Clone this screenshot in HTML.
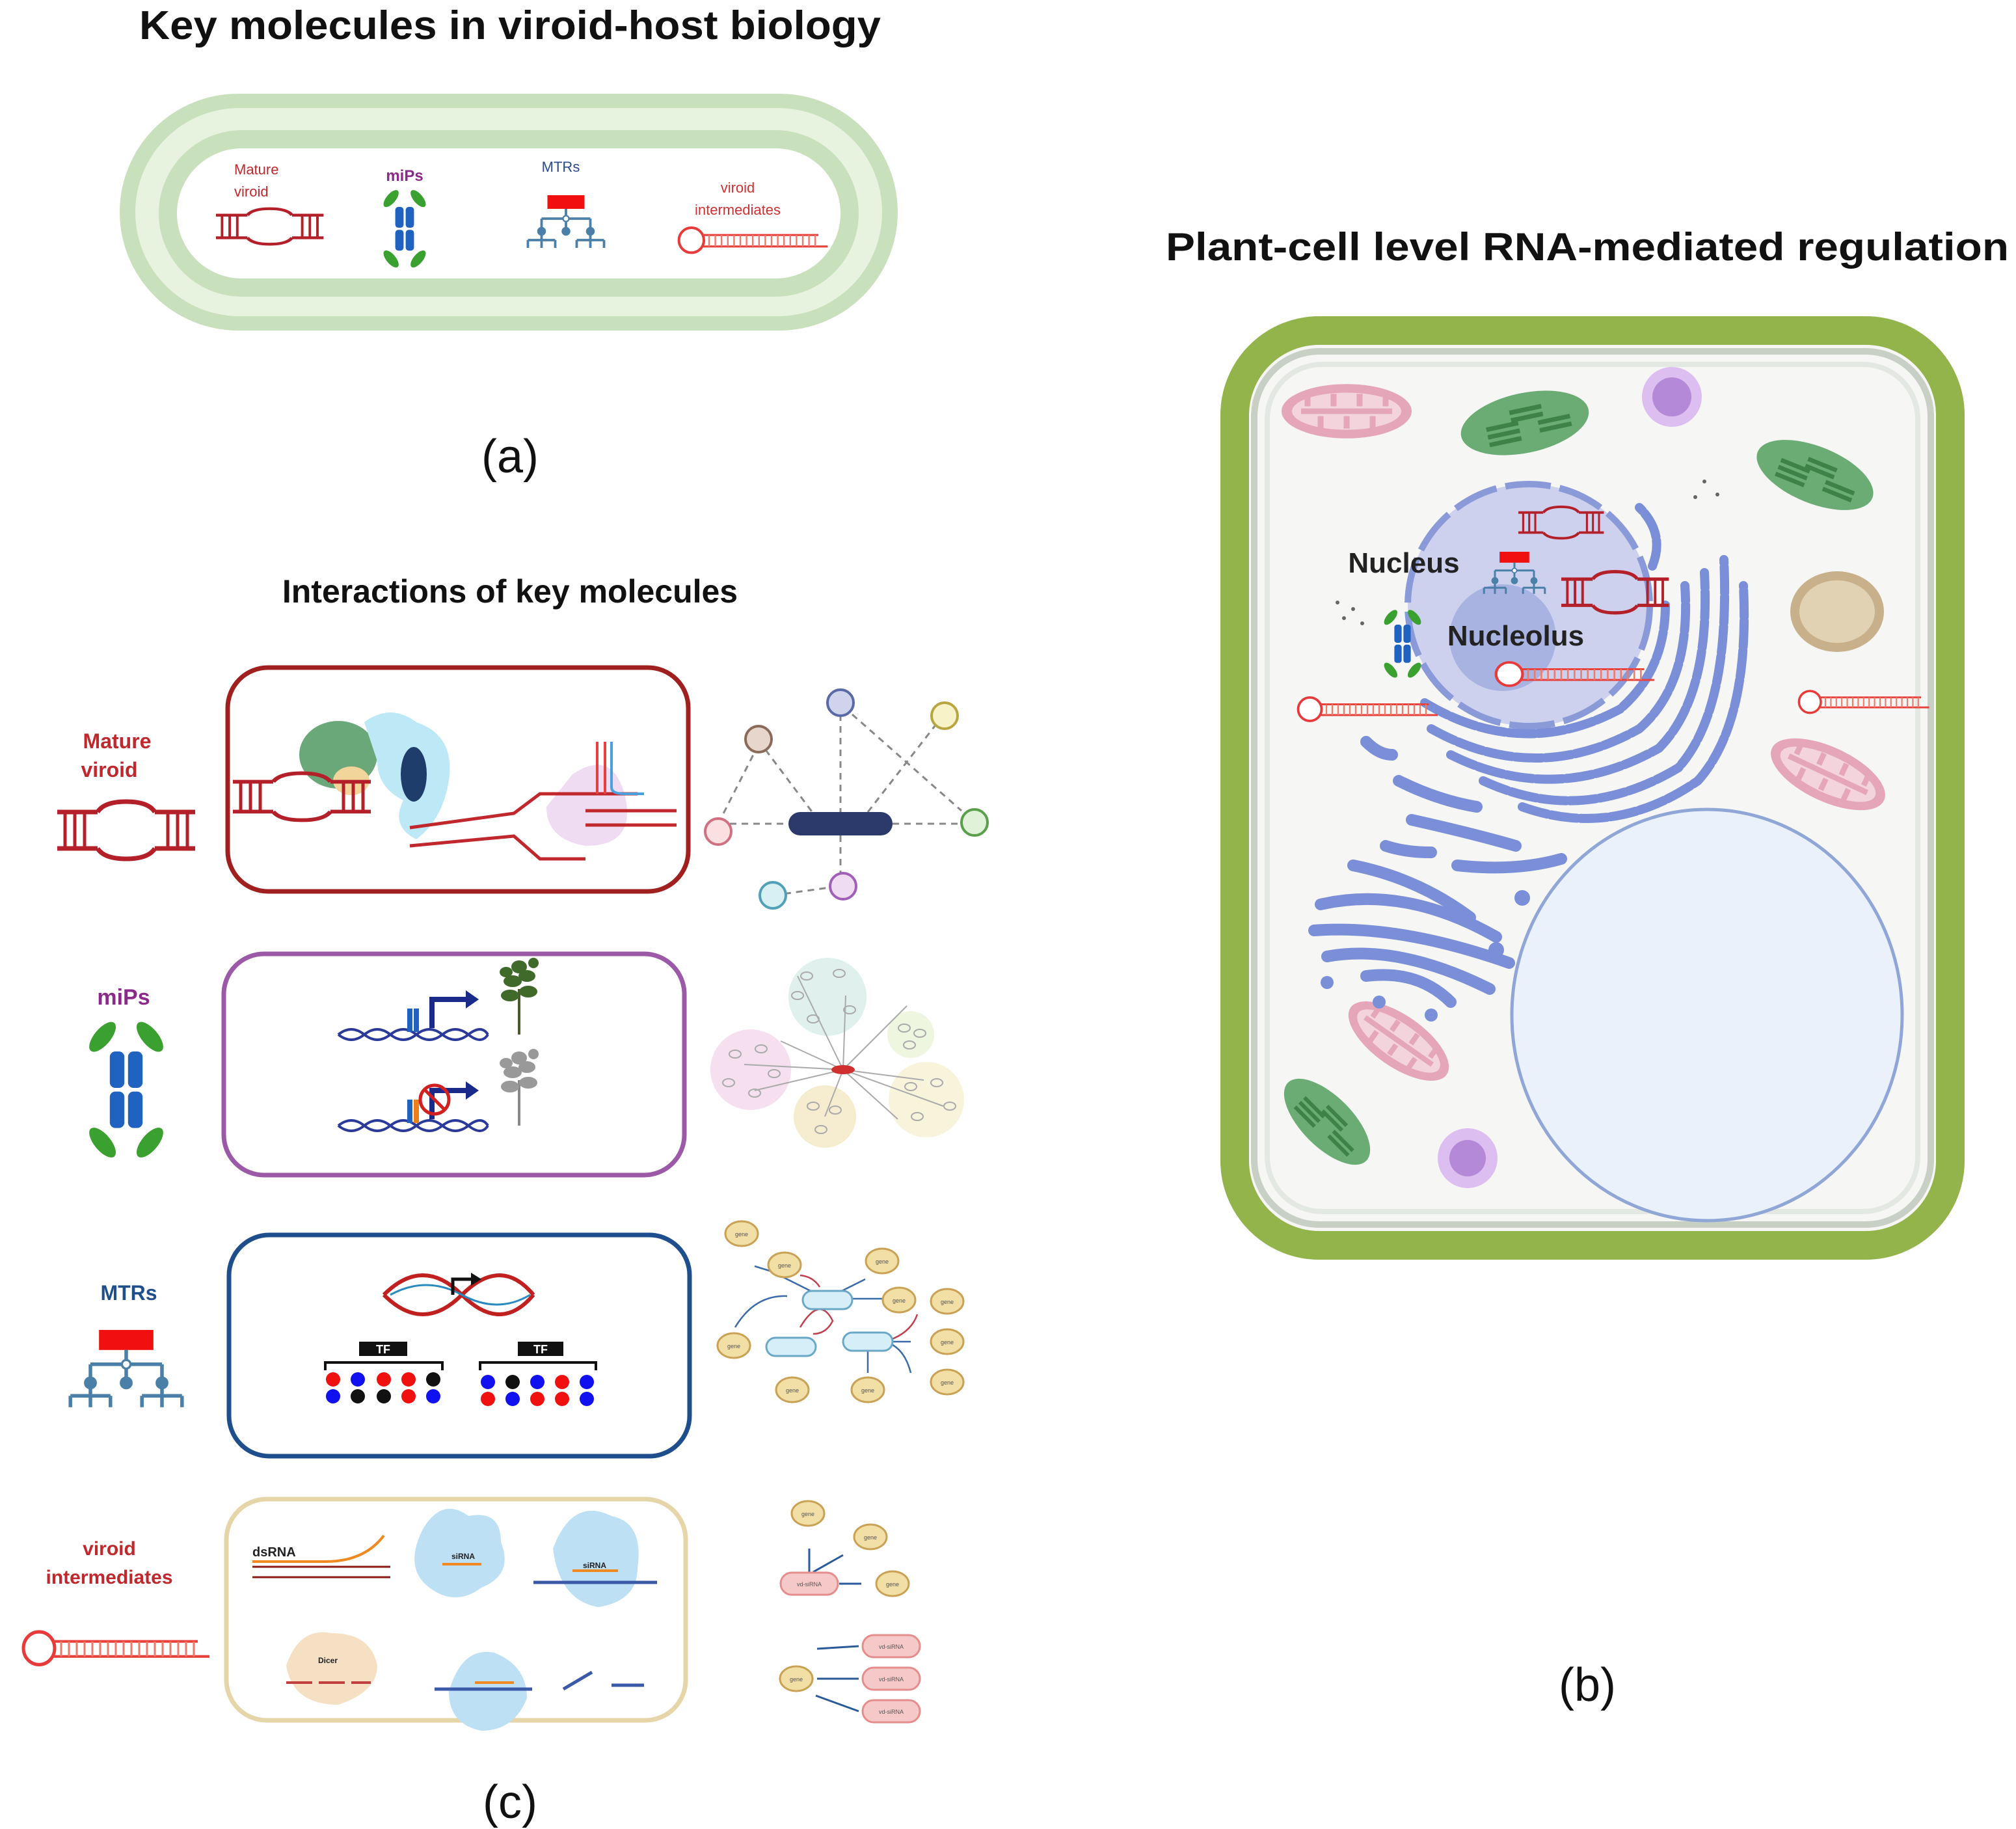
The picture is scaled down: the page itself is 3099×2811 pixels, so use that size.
<!DOCTYPE html>
<html><head><meta charset="utf-8"><style>
html,body{margin:0;padding:0;background:#fff}
svg{display:block}
text{font-family:"Liberation Sans",sans-serif}
</style></head><body>
<svg width="3099" height="2811" viewBox="0 0 3099 2811" xmlns="http://www.w3.org/2000/svg">
<defs>
<g id="vir">
 <path d="M0 14H62 M150 14H212 M0 70H62 M150 70H212" stroke="#b3202a" stroke-width="7" fill="none"/>
 <path d="M12 14V70 M27 14V70 M42 14V70 M170 14V70 M185 14V70 M200 14V70" stroke="#b3202a" stroke-width="5"/>
 <path d="M62 14 Q72 -2 106 -2 Q140 -2 150 14 M62 70 Q72 86 106 86 Q140 86 150 70" stroke="#b3202a" stroke-width="7" fill="none"/>
</g>
<g id="hp">
 <circle cx="26" cy="24" r="24" fill="#fff" stroke="#e83a3a" stroke-width="5"/>
 <path d="M48 14H270 M48 36H288" stroke="#e8403a" stroke-width="4"/>
 <path d="M60 14V36 M72 14V36 M84 14V36 M96 14V36 M108 14V36 M120 14V36 M132 14V36 M144 14V36 M156 14V36 M168 14V36 M180 14V36 M192 14V36 M204 14V36 M216 14V36 M228 14V36 M240 14V36 M252 14V36 M264 14V36" stroke="#f07a6a" stroke-width="3"/>
</g>
<g id="mip">
 <rect x="-18" y="0" width="16" height="40" rx="6" fill="#1f62c0"/><rect x="2" y="0" width="16" height="40" rx="6" fill="#1f62c0"/>
 <rect x="-18" y="44" width="16" height="40" rx="6" fill="#1f62c0"/><rect x="2" y="44" width="16" height="40" rx="6" fill="#1f62c0"/>
 <ellipse cx="-26" cy="-16" rx="9" ry="20" transform="rotate(40 -26 -16)" fill="#3aa030"/>
 <ellipse cx="26" cy="-16" rx="9" ry="20" transform="rotate(-40 26 -16)" fill="#3aa030"/>
 <ellipse cx="-26" cy="100" rx="9" ry="20" transform="rotate(-40 -26 100)" fill="#3aa030"/>
 <ellipse cx="26" cy="100" rx="9" ry="20" transform="rotate(40 26 100)" fill="#3aa030"/>
</g>
<g id="mtr">
 <rect x="-38" y="0" width="76" height="28" fill="#f01010"/>
 <path d="M0 28V48 M-50 48H50 M-50 48V70 M0 48V70 M50 48V70 M-50 78V92 M-78 92H-22 M-78 92V108 M-50 92V108 M-22 92V108 M50 78V92 M22 92H78 M22 92V108 M50 92V108 M78 92V108" stroke="#4a7fa8" stroke-width="5" fill="none"/>
 <circle cx="-50" cy="74" r="9" fill="#4a7fa8"/><circle cx="0" cy="74" r="9" fill="#4a7fa8"/><circle cx="50" cy="74" r="9" fill="#4a7fa8"/>
 <circle cx="0" cy="48" r="6" fill="#fff" stroke="#4a7fa8" stroke-width="3"/>
</g>
<g id="gene"><ellipse rx="25" ry="19" fill="#f2dfa6" stroke="#c9a255" stroke-width="3"/><text x="0" y="4" font-size="9" text-anchor="middle" fill="#555">gene</text></g>
<g id="vds"><rect x="-44" y="-17" width="88" height="34" rx="17" fill="#f6c9c9" stroke="#e58d8d" stroke-width="3"/><text x="0" y="4" font-size="9" text-anchor="middle" fill="#555">vd-siRNA</text></g>
<g id="mito"><ellipse rx="100" ry="44" fill="#e4a6b8"/><ellipse rx="84" ry="30" fill="#f3d3dc"/><path d="M-70 0H70 M-60 -28V-8 M-40 28V8 M-20 -28V-8 M0 28V8 M20 -28V-8 M40 28V8 M60 -28V-8" stroke="#e4a6b8" stroke-width="9"/></g>
<g id="chl"><ellipse rx="100" ry="46" fill="#6aac74"/><path d="M-60 10H-10 M-60 -2H-10 M-60 22H-10 M-20 -20H30 M-20 -8H30 M20 4H70 M20 16H70" stroke="#3f8248" stroke-width="7"/></g>
<g id="sn"><ellipse rx="9" ry="6" fill="none" stroke="#aaa" stroke-width="2"/></g>
<g id="tree"><path d="M0 0V-70" stroke="currentColor" stroke-width="4"/><ellipse cx="-14" cy="-60" rx="14" ry="9"/><ellipse cx="14" cy="-66" rx="14" ry="9"/><ellipse cx="-10" cy="-82" rx="14" ry="9"/><ellipse cx="12" cy="-90" rx="13" ry="9"/><ellipse cx="0" cy="-104" rx="12" ry="10"/><ellipse cx="-20" cy="-96" rx="10" ry="8"/><ellipse cx="22" cy="-110" rx="8" ry="8"/></g>
</defs>

<!-- (a) -->
<text x="784" y="60" font-size="62" font-weight="bold" text-anchor="middle" fill="#111" textLength="1140" lengthAdjust="spacingAndGlyphs">Key molecules in viroid-host biology</text>
<rect x="184" y="144" width="1196" height="364" rx="182" fill="#c9e0bd"/>
<rect x="208" y="166" width="1148" height="320" rx="160" fill="#e8f3df"/>
<rect x="244" y="200" width="1076" height="256" rx="128" fill="#c9e0bd"/>
<rect x="272" y="228" width="1020" height="200" rx="100" fill="#fff"/>
<text x="360" y="268" font-size="22" fill="#c0282d">Mature</text>
<text x="360" y="302" font-size="22" fill="#c0282d">viroid</text>
<use href="#vir" transform="translate(332,322) scale(0.78,0.62)"/>
<text x="622" y="278" font-size="24" font-weight="bold" text-anchor="middle" fill="#8a2a8a">miPs</text>
<use href="#mip" transform="translate(622,318) scale(0.8)"/>
<text x="862" y="264" font-size="22" text-anchor="middle" fill="#2a4a8a">MTRs</text>
<use href="#mtr" transform="translate(870,300) scale(0.75)"/>
<text x="1134" y="296" font-size="22" text-anchor="middle" fill="#d03030">viroid</text>
<text x="1134" y="330" font-size="22" text-anchor="middle" fill="#d03030">intermediates</text>
<use href="#hp" transform="translate(1042,350) scale(0.8)"/>
<text x="784" y="726" font-size="72" text-anchor="middle" fill="#111" font-family="Liberation Serif">(a)</text>

<!-- (b) -->
<text x="2440" y="400" font-size="60" font-weight="bold" text-anchor="middle" fill="#111" textLength="1296" lengthAdjust="spacingAndGlyphs">Plant-cell level RNA-mediated regulation</text>
<rect x="1898" y="508" width="1100" height="1406" rx="130" fill="#f6f6f4" stroke="#93b44a" stroke-width="44"/>
<rect x="1928" y="540" width="1040" height="1342" rx="100" fill="none" stroke="#c8cfc4" stroke-width="10"/>
<rect x="1948" y="560" width="1000" height="1302" rx="84" fill="none" stroke="#e4e8e2" stroke-width="8"/>
<use href="#mito" transform="translate(2070,632) scale(1,0.95)"/>
<use href="#chl" transform="translate(2344,650) rotate(-12)"/>
<circle cx="2570" cy="610" r="46" fill="#dcbff0"/><circle cx="2570" cy="610" r="30" fill="#b48ad8"/>
<use href="#chl" transform="translate(2790,730) rotate(22) scale(0.95)"/>
<ellipse cx="2824" cy="940" rx="72" ry="62" fill="#c8b08a"/><ellipse cx="2824" cy="940" rx="58" ry="48" fill="#e2d2b4"/>
<use href="#mito" transform="translate(2810,1190) rotate(25) scale(0.95)"/>
<use href="#hp" transform="translate(2764,1062) scale(0.7)"/>
<use href="#mito" transform="translate(2150,1600) rotate(35) scale(0.9)"/>
<use href="#chl" transform="translate(2040,1724) rotate(45) scale(0.85)"/>
<circle cx="2256" cy="1780" r="46" fill="#dcbff0"/><circle cx="2256" cy="1780" r="28" fill="#b48ad8"/>
<ellipse cx="2624" cy="1560" rx="300" ry="316" fill="#eaf1fb" stroke="#8fa6d6" stroke-width="5"/>
<!-- nucleus -->
<circle cx="2350" cy="930" r="186" fill="#cdd1ee" stroke="#8a9ad8" stroke-width="10" stroke-dasharray="70 14"/>
<circle cx="2310" cy="980" r="82" fill="#a9b3e2"/>
<!-- ER -->
<g fill="none" stroke="#7a8fd8" stroke-width="14" stroke-linecap="round" stroke-dasharray="40 6">
<path d="M2190 1080 Q2340 1170 2490 1090 Q2560 1030 2560 930"/>
<path d="M2200 1120 Q2360 1210 2520 1120 Q2600 1050 2590 900"/>
<path d="M2230 1160 Q2390 1240 2550 1150 Q2630 1070 2620 880"/>
<path d="M2280 1200 Q2430 1270 2580 1180 Q2660 1090 2650 860"/>
<path d="M2340 1240 Q2480 1290 2610 1200 Q2690 1110 2680 900"/>
<path d="M2540 870 Q2560 820 2520 780"/>
</g>
<g fill="none" stroke="#7a8fd8" stroke-width="18" stroke-linecap="round">
<path d="M2100 1140 Q2120 1160 2140 1160"/><path d="M2150 1200 Q2210 1230 2270 1240"/><path d="M2170 1260 Q2260 1280 2330 1300"/>
<path d="M2240 1330 Q2330 1340 2400 1320"/><path d="M2130 1300 Q2160 1310 2200 1310"/>
<path d="M2030 1390 Q2160 1360 2300 1440"/><path d="M2020 1430 Q2150 1420 2320 1480"/>
<path d="M2040 1470 Q2150 1450 2290 1520"/><path d="M2100 1500 Q2180 1490 2230 1540"/>
<path d="M2080 1330 Q2180 1350 2260 1410"/>
</g>
<g fill="#7a8fd8"><circle cx="2040" cy="1510" r="10"/><circle cx="2120" cy="1540" r="10"/><circle cx="2200" cy="1560" r="10"/><circle cx="2300" cy="1460" r="12"/><circle cx="2340" cy="1380" r="12"/></g>
<use href="#vir" transform="translate(2334,780) scale(0.62,0.55)"/>
<use href="#vir" transform="translate(2400,880) scale(0.78,0.72)"/>
<use href="#mtr" transform="translate(2328,848) scale(0.6)"/>
<use href="#hp" transform="translate(2298,1018) scale(0.85,0.75)"/>
<use href="#hp" transform="translate(1994,1072) scale(0.75)"/>
<use href="#mip" transform="translate(2156,960) scale(0.7)"/>
<g fill="#666"><circle cx="2056" cy="926" r="3"/><circle cx="2080" cy="936" r="3"/><circle cx="2066" cy="950" r="3"/><circle cx="2094" cy="958" r="3"/><circle cx="2620" cy="740" r="3"/><circle cx="2640" cy="760" r="3"/><circle cx="2606" cy="764" r="3"/></g>
<text x="2158" y="880" font-size="44" font-weight="bold" text-anchor="middle" fill="#222">Nucleus</text>
<text x="2330" y="992" font-size="44" font-weight="bold" text-anchor="middle" fill="#222">Nucleolus</text>
<text x="2440" y="2614" font-size="72" text-anchor="middle" fill="#111" font-family="Liberation Serif">(b)</text>

<!-- (c) -->
<text x="784" y="926" font-size="50" font-weight="bold" text-anchor="middle" fill="#111">Interactions of key molecules</text>
<text x="180" y="1150" font-size="32" fill="#c0282d" text-anchor="middle" font-weight="bold">Mature</text>
<text x="168" y="1194" font-size="32" fill="#c0282d" text-anchor="middle" font-weight="bold">viroid</text>
<use href="#vir" transform="translate(88,1234)"/>
<text x="190" y="1544" font-size="34" fill="#8a2a8a" text-anchor="middle" font-weight="bold">miPs</text>
<use href="#mip" transform="translate(194,1616) scale(1.4)"/>
<text x="198" y="1998" font-size="32" fill="#1f4e8c" text-anchor="middle" font-weight="bold">MTRs</text>
<use href="#mtr" transform="translate(194,2044) scale(1.1)"/>
<text x="168" y="2390" font-size="30" fill="#c0282d" text-anchor="middle" font-weight="bold">viroid</text>
<text x="168" y="2434" font-size="30" fill="#c0282d" text-anchor="middle" font-weight="bold">intermediates</text>
<use href="#hp" transform="translate(34,2508) scale(1,1.05)"/>

<rect x="350" y="1026" width="708" height="344" rx="62" fill="#fff" stroke="#a02020" stroke-width="7"/>
<rect x="344" y="1466" width="708" height="340" rx="62" fill="#fff" stroke="#9b59a8" stroke-width="7"/>
<rect x="352" y="1898" width="708" height="340" rx="62" fill="#fff" stroke="#1f4e8c" stroke-width="7"/>
<rect x="348" y="2304" width="706" height="340" rx="62" fill="#fff" stroke="#e6d5a8" stroke-width="7"/>

<!-- row1 content -->
<ellipse cx="520" cy="1160" rx="60" ry="52" fill="#6aa87a"/>
<path d="M560 1110 Q600 1080 640 1110 Q700 1130 690 1200 Q680 1260 640 1290 Q600 1270 620 1230 Q580 1210 580 1170Z" fill="#bde8f6"/>
<ellipse cx="636" cy="1190" rx="20" ry="42" fill="#1f3d6b"/>
<ellipse cx="540" cy="1200" rx="28" ry="22" fill="#f2d59a"/>
<use href="#vir" transform="translate(358,1190) scale(1,0.82)"/>
<path d="M880 1190 Q940 1150 960 1220 Q980 1300 900 1300 Q840 1290 840 1240Z" fill="#f0dcf2"/>
<path d="M630 1272L790 1250L830 1220H980 M630 1300L790 1285L830 1320H900 M900 1246H1040 M900 1268H1040" stroke="#c0282d" stroke-width="5" fill="none"/>
<path d="M918 1140V1220 M930 1140V1220" stroke="#e84040" stroke-width="4"/>
<path d="M940 1140V1210Q940 1220 960 1220H990" stroke="#4aa0dd" stroke-width="4" fill="none"/>
<g stroke="#888" stroke-width="3" stroke-dasharray="10 8" fill="none">
<path d="M1104 1266H1212 M1372 1266H1478 M1292 1098V1248 M1292 1284V1344 M1188 1376L1276 1364 M1166 1138L1250 1250 M1104 1266L1160 1156 M1310 1098L1478 1246 M1334 1248L1440 1112"/>
</g>
<rect x="1212" y="1248" width="160" height="36" rx="18" fill="#2b3a6b"/>
<g stroke-width="4"><circle cx="1166" cy="1136" r="20" fill="#e6d6cc" stroke="#8a6a5a"/><circle cx="1292" cy="1080" r="20" fill="#cfd4ec" stroke="#5a6aa8"/><circle cx="1452" cy="1100" r="20" fill="#f8f2c8" stroke="#b8a640"/><circle cx="1104" cy="1278" r="20" fill="#fbe0e2" stroke="#d07080"/><circle cx="1498" cy="1264" r="20" fill="#e0f2d8" stroke="#5aa04a"/><circle cx="1188" cy="1376" r="20" fill="#d8f0f4" stroke="#50a0b8"/><circle cx="1296" cy="1362" r="20" fill="#f0dcf2" stroke="#a060b8"/></g>

<!-- row2 content -->
<g fill="none" stroke="#2a3a9a" stroke-width="4"><path d="M520 1590 Q540 1574 560 1590 T600 1590 T640 1590 T680 1590 T720 1590 T750 1590"/><path d="M520 1590 Q540 1606 560 1590 T600 1590 T640 1590 T680 1590 T720 1590 T750 1590"/>
<path d="M520 1730 Q540 1714 560 1730 T600 1730 T640 1730 T680 1730 T720 1730 T750 1730"/><path d="M520 1730 Q540 1746 560 1730 T600 1730 T640 1730 T680 1730 T720 1730 T750 1730"/></g>
<path d="M664 1580V1536H720" stroke="#1a2a8a" stroke-width="8" fill="none"/><path d="M716 1522L736 1536L716 1550Z" fill="#1a2a8a"/>
<path d="M664 1720V1676H720" stroke="#1a2a8a" stroke-width="8" fill="none"/><path d="M716 1662L736 1676L716 1690Z" fill="#1a2a8a"/>
<rect x="626" y="1550" width="8" height="36" fill="#1f62c0"/><rect x="636" y="1550" width="8" height="36" fill="#1f62c0"/>
<rect x="626" y="1690" width="8" height="36" fill="#1f62c0"/><rect x="636" y="1690" width="8" height="36" fill="#e88020"/>
<circle cx="668" cy="1690" r="22" fill="none" stroke="#d02020" stroke-width="5"/><path d="M652 1674L684 1706" stroke="#d02020" stroke-width="5"/>
<use href="#tree" transform="translate(798,1590)" fill="#3f6a2a" style="color:#4a5a2a"/>
<use href="#tree" transform="translate(798,1730)" fill="#999" style="color:#888"/>
<circle cx="1272" cy="1532" r="60" fill="#e0f0ec"/><circle cx="1154" cy="1644" r="62" fill="#f6e0f0"/><circle cx="1400" cy="1590" r="36" fill="#eef6e0"/><circle cx="1424" cy="1690" r="58" fill="#f8f4dc"/><circle cx="1268" cy="1716" r="48" fill="#f6ecd0"/>
<g stroke="#aaa" stroke-width="2"><path d="M1296 1644L1226 1500 M1296 1644L1300 1530 M1296 1644L1144 1636 M1296 1644L1394 1546 M1296 1644L1420 1660 M1296 1644L1268 1716 M1296 1644L1450 1700 M1296 1644L1200 1600 M1296 1644L1380 1720 M1296 1644L1160 1676"/></g>
<g><use href="#sn" x="1240" y="1500"/><use href="#sn" x="1290" y="1496"/><use href="#sn" x="1226" y="1530"/><use href="#sn" x="1306" y="1552"/><use href="#sn" x="1250" y="1566"/>
<use href="#sn" x="1130" y="1620"/><use href="#sn" x="1170" y="1612"/><use href="#sn" x="1190" y="1650"/><use href="#sn" x="1120" y="1664"/><use href="#sn" x="1160" y="1680"/>
<use href="#sn" x="1390" y="1580"/><use href="#sn" x="1414" y="1588"/><use href="#sn" x="1398" y="1606"/>
<use href="#sn" x="1400" y="1670"/><use href="#sn" x="1440" y="1664"/><use href="#sn" x="1460" y="1700"/><use href="#sn" x="1410" y="1716"/>
<use href="#sn" x="1250" y="1700"/><use href="#sn" x="1284" y="1706"/><use href="#sn" x="1262" y="1736"/></g>
<ellipse cx="1296" cy="1644" rx="18" ry="7" fill="#d03030"/>

<!-- row3 content -->
<g fill="none" stroke-width="6"><path d="M590 1990 Q650 1930 710 1990 T820 1990" stroke="#c02020"/><path d="M590 1990 Q650 2050 710 1990 T820 1990" stroke="#c02020"/><path d="M600 1990 Q655 1960 710 1990 T815 1990" stroke="#2a8ac0" stroke-width="3"/></g>
<path d="M696 1990V1966H728" stroke="#111" stroke-width="5" fill="none"/><path d="M724 1956L740 1966L724 1976Z" fill="#111"/>
<rect x="552" y="2062" width="74" height="22" fill="#111"/><text x="589" y="2080" font-size="18" fill="#fff" text-anchor="middle" font-weight="bold">TF</text>
<rect x="796" y="2062" width="70" height="22" fill="#111"/><text x="831" y="2080" font-size="18" fill="#fff" text-anchor="middle" font-weight="bold">TF</text>
<path d="M500 2106V2094H680V2106 M738 2106V2094H916V2106" stroke="#111" stroke-width="4" fill="none"/>
<g>
<circle cx="512" cy="2120" r="11" fill="#f01010"/><circle cx="550" cy="2120" r="11" fill="#1010f0"/><circle cx="590" cy="2120" r="11" fill="#f01010"/><circle cx="628" cy="2120" r="11" fill="#f01010"/><circle cx="666" cy="2120" r="11" fill="#111"/>
<circle cx="512" cy="2146" r="11" fill="#1010f0"/><circle cx="550" cy="2146" r="11" fill="#111"/><circle cx="590" cy="2146" r="11" fill="#111"/><circle cx="628" cy="2146" r="11" fill="#f01010"/><circle cx="666" cy="2146" r="11" fill="#1010f0"/>
<circle cx="750" cy="2124" r="11" fill="#1010f0"/><circle cx="788" cy="2124" r="11" fill="#111"/><circle cx="826" cy="2124" r="11" fill="#1010f0"/><circle cx="864" cy="2124" r="11" fill="#f01010"/><circle cx="902" cy="2124" r="11" fill="#1010f0"/>
<circle cx="750" cy="2150" r="11" fill="#f01010"/><circle cx="788" cy="2150" r="11" fill="#1010f0"/><circle cx="826" cy="2150" r="11" fill="#f01010"/><circle cx="864" cy="2150" r="11" fill="#f01010"/><circle cx="902" cy="2150" r="11" fill="#1010f0"/>
</g>
<g stroke="#3a6aa8" stroke-width="2.5" fill="none"><path d="M1186 1954L1160 1946 M1198 1960L1270 1996 M1270 1996L1330 1966 M1306 1996L1360 1996 M1130 2040Q1160 1990 1210 1992 M1360 2062L1400 2062 M1334 2072V2110 M1360 2062Q1390 2070 1400 2110"/></g>
<g stroke="#c04050" stroke-width="2.5" fill="none"><path d="M1230 1960Q1250 1962 1260 1978 M1230 2040Q1260 1990 1280 2030Q1270 2050 1250 2050 M1360 2062Q1400 2050 1410 2020"/></g>
<use href="#gene" transform="translate(1140,1896)"/><use href="#gene" transform="translate(1206,1944)"/><use href="#gene" transform="translate(1356,1938)"/><use href="#gene" transform="translate(1382,1998)"/><use href="#gene" transform="translate(1456,2000)"/><use href="#gene" transform="translate(1456,2062)"/><use href="#gene" transform="translate(1456,2124)"/><use href="#gene" transform="translate(1128,2068)"/><use href="#gene" transform="translate(1218,2136)"/><use href="#gene" transform="translate(1334,2136)"/>
<g fill="#d6eef8" stroke="#6aa8c8" stroke-width="3"><rect x="1234" y="1984" width="76" height="28" rx="14"/><rect x="1178" y="2056" width="76" height="28" rx="14"/><rect x="1296" y="2048" width="76" height="28" rx="14"/></g>

<!-- row4 content -->
<path d="M388 2408H600 M388 2424H600" stroke="#8a1a1a" stroke-width="3"/><path d="M388 2400H500Q560 2400 590 2360" stroke="#f08a20" stroke-width="4" fill="none"/>
<text x="388" y="2392" font-size="20" font-weight="bold" fill="#222">dsRNA</text>
<path d="M650 2350Q680 2300 720 2330Q770 2320 770 2370Q790 2420 740 2440Q700 2470 660 2440Q620 2410 650 2350Z" fill="#bde0f4"/>
<path d="M680 2404H740" stroke="#f08a20" stroke-width="4"/><text x="712" y="2396" font-size="12" font-weight="bold" text-anchor="middle" fill="#222">siRNA</text>
<path d="M850 2380Q880 2300 940 2330Q990 2340 980 2410Q980 2460 920 2470Q860 2460 850 2380Z" fill="#bde0f4"/>
<path d="M820 2432H1010" stroke="#3a5aa8" stroke-width="5"/><path d="M880 2414H950" stroke="#f08a20" stroke-width="4"/>
<text x="914" y="2410" font-size="12" font-weight="bold" text-anchor="middle" fill="#222">siRNA</text>
<path d="M440 2560Q460 2500 510 2510Q570 2510 580 2560Q580 2600 520 2620Q450 2620 440 2560Z" fill="#f6e0c4"/>
<text x="504" y="2556" font-size="12" font-weight="bold" text-anchor="middle" fill="#222">Dicer</text>
<path d="M440 2586H570" stroke="#c04040" stroke-width="4" stroke-dasharray="40 10"/>
<path d="M690 2600Q710 2530 760 2540Q810 2560 810 2610Q790 2660 740 2660Q690 2650 690 2600Z" fill="#bde0f4"/>
<path d="M668 2596H818" stroke="#3a5aa8" stroke-width="5"/><path d="M730 2586H790" stroke="#f08a20" stroke-width="4"/>
<path d="M866 2596L910 2570 M940 2590H990" stroke="#3a5aa8" stroke-width="5"/>
<g stroke="#2a5a9a" stroke-width="3" fill="none"><path d="M1244 2416V2380 M1250 2416L1296 2390 M1290 2434H1324 M1256 2534L1320 2530 M1256 2580H1320 M1254 2606L1320 2630"/></g>
<use href="#gene" transform="translate(1242,2326)"/><use href="#gene" transform="translate(1338,2362)"/><use href="#gene" transform="translate(1372,2434)"/><use href="#gene" transform="translate(1224,2580)"/>
<use href="#vds" transform="translate(1244,2434)"/><use href="#vds" transform="translate(1370,2530)"/><use href="#vds" transform="translate(1370,2580)"/><use href="#vds" transform="translate(1370,2630)"/>

<text x="784" y="2794" font-size="72" text-anchor="middle" fill="#111" font-family="Liberation Serif">(c)</text>
</svg>
</body></html>
